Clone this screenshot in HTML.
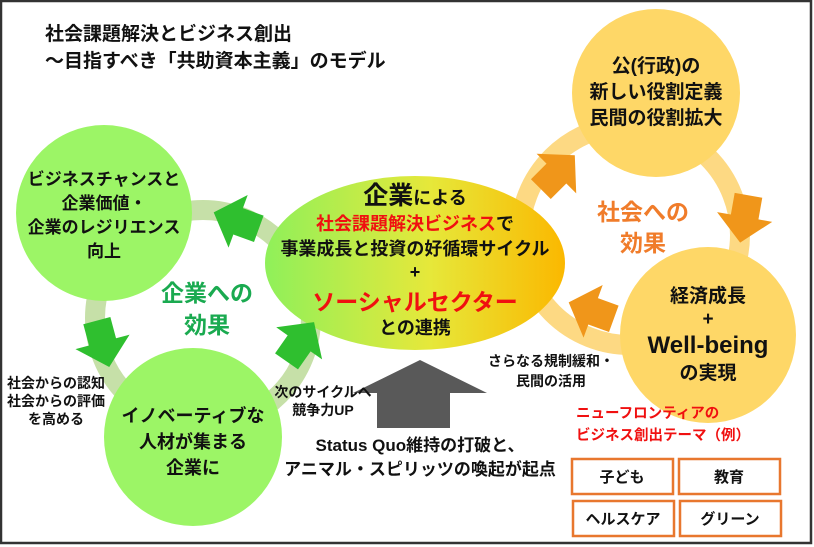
<!DOCTYPE html>
<html><head><meta charset="utf-8"><style>
html,body{margin:0;padding:0;background:#fff}
svg{display:block}
text{font-family:"Liberation Sans","Noto Sans CJK JP",sans-serif;font-weight:bold}
</style></head><body>
<svg width="814" height="547" viewBox="0 0 814 547" xmlns="http://www.w3.org/2000/svg">
<defs>
<linearGradient id="g" x1="0" x2="1" y1="0" y2="0">
<stop offset="0" stop-color="#8ff05a"/><stop offset="0.55" stop-color="#e6e83a"/><stop offset="1" stop-color="#fbb800"/>
</linearGradient>
<polygon id="ar" points="-20,-14 2,-14 2,-28 28,0 2,28 2,14 -20,14"/>
</defs>
<rect x="1" y="1" width="810" height="542" fill="#fff" stroke="#333" stroke-width="2.5"/>
<text x="45" y="40" font-size="19" fill="#111">社会課題解決とビジネス創出</text>
<text x="45" y="67" font-size="19" fill="#111">〜目指すべき「共助資本主義」のモデル</text>
<!-- rings -->
<circle cx="203" cy="318" r="108" fill="none" stroke="#c6e0a8" stroke-width="20"/>
<circle cx="630" cy="235" r="110" fill="none" stroke="#fdd983" stroke-width="20"/>
<!-- circles -->
<circle cx="104" cy="213" r="88" fill="#9cf566"/>
<circle cx="193" cy="437" r="89" fill="#9cf566"/>
<circle cx="656" cy="93" r="84" fill="#fed767"/>
<circle cx="708" cy="335" r="88" fill="#fed767"/>
<ellipse cx="415" cy="263" rx="150" ry="87" fill="url(#g)"/>
<!-- arrows -->
<g fill="#2fbf2f">
<use href="#ar" transform="translate(240,222) rotate(200)"/>
<use href="#ar" transform="translate(102,340) rotate(75)"/>
<use href="#ar" transform="translate(298,345) rotate(-55)"/>
</g>
<g fill="#f0961a">
<use href="#ar" transform="translate(555,175) rotate(-45)"/>
<use href="#ar" transform="translate(745,215) rotate(100)"/>
<use href="#ar" transform="translate(595,312) rotate(200)"/>
</g>
<polygon points="420,360 487,393 450,393 450,428 377,428 377,393 353,393" fill="#595959"/>
<!-- texts -->
<g font-size="17" fill="#111" text-anchor="middle">
<text x="104" y="185">ビジネスチャンスと</text>
<text x="104" y="209">企業価値・</text>
<text x="104" y="233">企業のレジリエンス</text>
<text x="104" y="257">向上</text>
<text x="193" y="422" font-size="18">イノベーティブな</text>
<text x="193" y="448" font-size="18">人材が集まる</text>
<text x="193" y="474" font-size="18">企業に</text>
<text x="656" y="72" font-size="19">公(行政)の</text>
<text x="656" y="98" font-size="19">新しい役割定義</text>
<text x="656" y="124" font-size="19">民間の役割拡大</text>
<text x="708" y="302" font-size="19">経済成長</text>
<text x="708" y="325" font-size="19">+</text>
<text x="708" y="353" font-size="24">Well-being</text>
<text x="708" y="379" font-size="19">の実現</text>
<text x="415" y="204" font-size="18"><tspan font-size="25">企業</tspan>による</text>
<text x="415" y="230" font-size="18"><tspan fill="#f01010">社会課題解決ビジネス</tspan>で</text>
<text x="415" y="255" font-size="18">事業成長と投資の好循環サイクル</text>
<text x="415" y="278" font-size="18">+</text>
<text x="415" y="310" font-size="23" fill="#f01010">ソーシャルセクター</text>
<text x="415" y="334" font-size="18">との連携</text>
<text x="207" y="301" font-size="23" fill="#1aaa50">企業への</text>
<text x="207" y="333" font-size="23" fill="#1aaa50">効果</text>
<text x="643" y="220" font-size="23" fill="#f07c2a">社会への</text>
<text x="643" y="251" font-size="23" fill="#f07c2a">効果</text>
<text x="56" y="388" font-size="14">社会からの認知</text>
<text x="56" y="406" font-size="14">社会からの評価</text>
<text x="56" y="424" font-size="14">を高める</text>
<text x="323" y="397" font-size="14">次のサイクルへ</text>
<text x="323" y="415" font-size="14">競争力UP</text>
<text x="551" y="366" font-size="14">さらなる規制緩和・</text>
<text x="551" y="386" font-size="14">民間の活用</text>
<text x="420" y="451" font-size="17">Status Quo維持の打破と、</text>
<text x="420" y="475" font-size="17">アニマル・スピリッツの喚起が起点</text>
</g>
<g font-size="14.5" fill="#f01010">
<text x="576" y="418">ニューフロンティアの</text>
<text x="576" y="440">ビジネス創出テーマ（例）</text>
</g>
<g fill="#fff" stroke="#e8772e" stroke-width="2.5">
<rect x="572" y="459" width="101" height="35"/>
<rect x="679" y="459" width="101" height="35"/>
<rect x="573" y="501" width="101" height="35"/>
<rect x="680" y="501" width="101" height="35"/>
</g>
<g font-size="15" fill="#111" text-anchor="middle">
<text x="622" y="482">子ども</text>
<text x="729" y="482">教育</text>
<text x="623" y="524">ヘルスケア</text>
<text x="730" y="524">グリーン</text>
</g>
</svg>
</body></html>
